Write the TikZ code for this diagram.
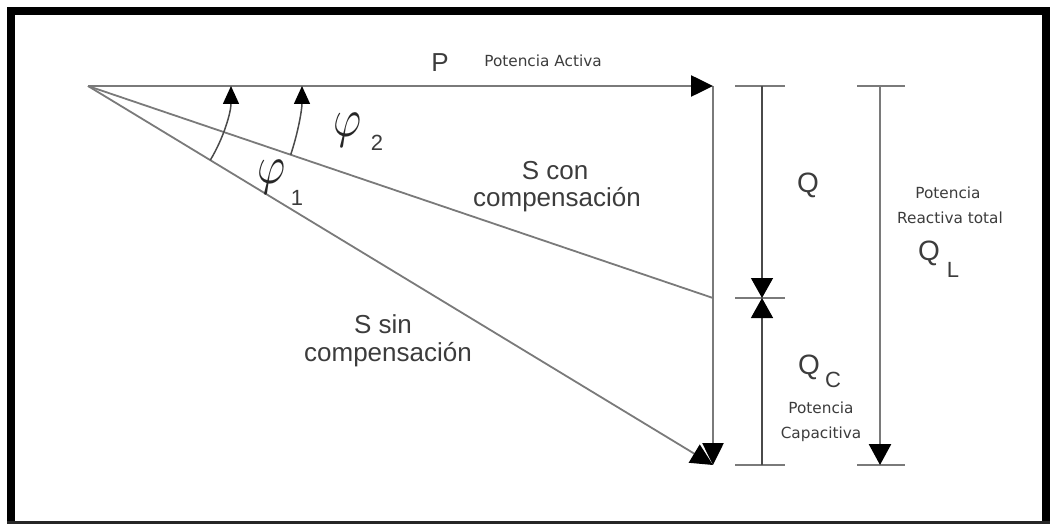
\documentclass[tikz,border=0pt]{standalone}
\usepackage{fontspec}
\setmainfont{Liberation Sans}
\newfontfamily\smallfont{DejaVu Sans}
\usetikzlibrary{arrows.meta}
\definecolor{lncol}{HTML}{7A7A7A}
\definecolor{txtcol}{HTML}{3C3C3C}
\definecolor{dimcol}{HTML}{4A4A4A}
\begin{document}
\begin{tikzpicture}[x=1pt,y=-1pt,
  vec/.style={draw=lncol,line width=2.6pt},
  sline/.style={draw=lncol,line width=1.8pt},
  tickline/.style={draw=lncol,line width=2pt},
  dimline/.style={draw=dimcol,line width=1.4pt},
  arcline/.style={draw=dimcol,line width=1.5pt},
  bigtip/.style={-{Triangle[length=22pt,width=21pt,color=black]}},
  smalltip/.style={-{Triangle[length=18pt,width=16pt,color=black]}},
  big/.style={font=\fontsize{26}{28}\selectfont,text=txtcol,inner sep=0pt,anchor=base},
  bigq/.style={font=\fontsize{28}{30}\selectfont,text=txtcol,inner sep=0pt,anchor=base},
  subl/.style={font=\fontsize{22}{24}\selectfont,text=txtcol,inner sep=0pt,anchor=base},
  small/.style={font=\smallfont\fontsize{15.3}{17}\selectfont,text=txtcol,inner sep=0pt,anchor=base},
  phi/.style={text=black!85,inner sep=0pt,anchor=base}]
\useasboundingbox (0,0) rectangle (1050,524);
% frame
\fill[black] (7,7) rectangle (1050,15);
\fill[black] (7,7) rectangle (15,524);
\fill[black] (1042,7) rectangle (1050,524);
\fill[black!85] (7,521) rectangle (1050,524);
% main points
\coordinate (O) at (88,86);
\coordinate (A) at (713,86);
\coordinate (B) at (713,298);
\coordinate (C) at (713,465);
% triangle
\draw[sline] (O) -- (B);
\draw[sline,bigtip] (O) -- (C);
\draw[vec,bigtip] (A) -- (C);
\draw[vec,bigtip] (O) -- (A);
% Q dimension
\coordinate (qt) at (762,86);
\coordinate (qm) at (762,298);
\coordinate (qb) at (762,465);
\draw[tickline] (qt) +(-27,0) -- +(23,0);
\draw[tickline] (qm) +(-27,0) -- +(23,0);
\draw[tickline] (qb) +(-27,0) -- +(23,0);
\draw[dimline,-{Triangle[length=20pt,width=22pt,color=black]}] (qt) -- (qm);
\draw[dimline,-{Triangle[length=20pt,width=22pt,color=black]}] (qb) -- (qm);
% QL dimension
\coordinate (lt) at (880,86);
\coordinate (lb) at (880,465);
\draw[tickline] (lt) +(-23,0) -- +(25,0);
\draw[tickline] (lb) +(-23,0) -- +(25,0);
\draw[vec,-{Triangle[length=21pt,width=22pt,color=black]}] (lt) -- (lb);
% angle arcs
\draw[arcline,smalltip] (O) ++(-31.23:143pt) arc[start angle=-31.23,end angle=0,radius=143pt];
\draw[arcline,smalltip] (O) ++(-18.73:214pt) arc[start angle=-18.73,end angle=0,radius=214pt];
% labels
\node[big] (lp) at (440,72) {P};
\node[small] (lpa) at (543,67) {Potencia Activa};
\node[big] (lscon1) at (555,180) {S con};
\node[big] (lscon2) at (557,207) {compensación};
\node[big] (lssin1) at (383,333) {S sin};
\node[big] (lssin2) at (388,361) {compensación};
\node[bigq] (lq) at (808,193) {Q};
\node[small] (lrt1) at (948,198) {Potencia};
\node[small] (lrt2) at (950,223) {Reactiva total};
\node[bigq] (lql) at (929,260) {Q};
\node[subl] (lqls) at (953,277) {L};
\node[bigq] (lqc) at (809,374) {Q};
\node[subl] (lqcs) at (833,387) {C};
\node[small] (lcp1) at (821,413) {Potencia};
\node[small] (lcp2) at (821,438) {Capacitiva};
\node[phi] (phi2) at (348,137) {\scalebox{4.3}[5.4]{$\varphi$}};
\node[subl] (phi2s) at (377,151) {2};
\node[phi] (phi1) at (272,183) {\scalebox{4.3}[5.4]{$\varphi$}};
\node[subl] (phi1s) at (297,205) {1};
\end{tikzpicture}
\end{document}
